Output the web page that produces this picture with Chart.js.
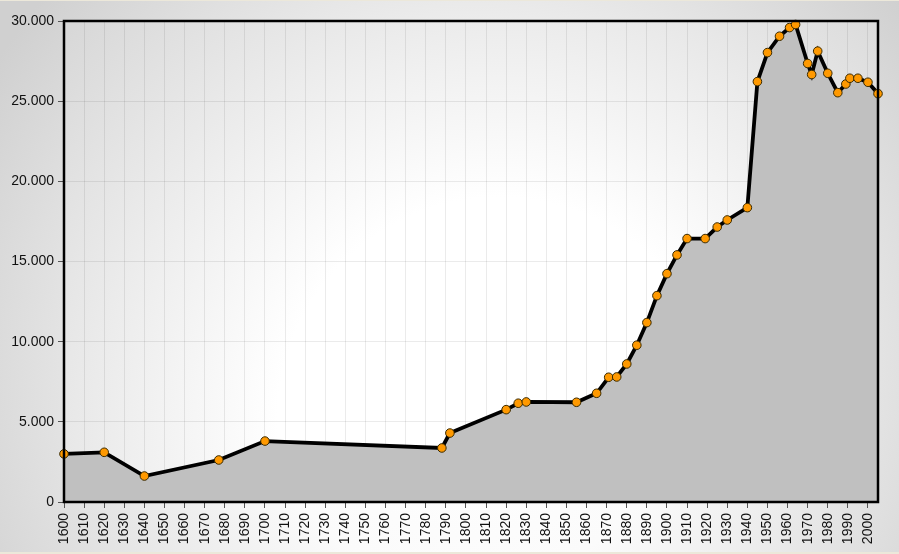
<!DOCTYPE html>
<html>
<head>
<meta charset="utf-8">
<script src="https://cdn.jsdelivr.net/npm/chart.js@4.4.1/dist/chart.umd.min.js"></script>
<style>
  html, body { margin: 0; padding: 0; background: #fff; }
  #wrap { width: 899px; height: 554px; }
</style>
</head>
<body>
<div id="wrap"><canvas id="grafik" width="899" height="554"></canvas></div>
<script>
// ===== data =====
const jahre = [1600, 1620, 1640, 1677, 1700, 1788, 1792, 1820, 1826, 1830,
  1855, 1865, 1871, 1875, 1880, 1885, 1890, 1895, 1900, 1905,
  1910, 1919, 1925, 1930, 1940, 1945, 1950, 1956, 1961, 1964,
  1970, 1972, 1975, 1980, 1985, 1989, 1991, 1995, 2000, 2005];
const einwohner = [3000, 3100, 1620, 2620, 3800, 3370, 4300, 5760, 6160, 6240,
  6220, 6780, 7780, 7800, 8610, 9780, 11190, 12870, 14240, 15410,
  16430, 16430, 17150, 17590, 18360, 26220, 28030, 29050, 29590, 29780,
  27350, 26660, 28120, 26740, 25530, 26070, 26430, 26430, 26180, 25470];
const yTicks = [0, 5000, 10000, 15000, 20000, 25000, 30000];
const xTicks = [];
for (let j = 1600; j <= 2000; j += 10) xTicks.push(j);

// ===== helper =====
function fmt(v) {
  return String(v).replace(/\B(?=(\d{3})+(?!\d))/g, ".");
}

const schrift = { family: "'Liberation Sans', Arial, sans-serif", size: 14 };

// ===== hintergrund =====
const hintergrund = {
  id: "hintergrund",
  beforeDraw(chart) {
    const { ctx, width, height, chartArea: a } = chart;
    ctx.save();
    let g = ctx.createRadialGradient(470, 360, 40, 470, 360, 560);
    g.addColorStop(0, "#ffffff");
    g.addColorStop(0.35, "#fbfbfb");
    g.addColorStop(1, "#d0d0d0");
    ctx.fillStyle = g;
    ctx.fillRect(0, 0, width, height);
    ctx.fillStyle = "#ece8da";
    ctx.fillRect(0, 0, width, 1);
    ctx.fillRect(0, height - 2, width, 2);

    g = ctx.createRadialGradient(500, 420, 30, 500, 420, 580);
    g.addColorStop(0, "#ffffff");
    g.addColorStop(0.35, "#ffffff");
    g.addColorStop(1, "#d8d8d8");
    ctx.fillStyle = g;
    ctx.fillRect(a.left, a.top, a.right - a.left, a.bottom - a.top);
    ctx.restore();
  },
  afterDraw(chart) {
    const { ctx, chartArea: a } = chart;
    ctx.save();
    ctx.strokeStyle = "#000";
    ctx.lineWidth = 2.5;
    ctx.strokeRect(a.left, a.top, a.right - a.left, a.bottom - a.top);
    ctx.restore();
  }
};

// ===== grafik =====
new Chart(document.getElementById("grafik"), {
  type: "line",
  data: {
    datasets: [{
      label: "Einwohner",
      data: jahre.map((x, i) => ({ x, y: einwohner[i] })),
      borderColor: "#000",
      borderWidth: 3.8,
      backgroundColor: "#c0c0c0",
      fill: "origin",
      tension: 0,
      clip: false,
      pointRadius: 4.3,
      pointBackgroundColor: "#ff9900",
      pointBorderColor: "#3a2a00",
      pointBorderWidth: 1
    }]
  },
  options: {
    responsive: false,
    animation: false,
    layout: { padding: { left: 0, right: 21, top: 21, bottom: 0 } },
    plugins: { legend: { display: false }, tooltip: { enabled: false } },
    scales: {
      x: {
        type: "linear",
        min: 1600,
        max: 2005,
        afterBuildTicks(s) {
          s.ticks = xTicks.map(v => ({ value: v }));
        },
        afterFit(s) { s.height = 52; },
        ticks: {
          maxRotation: 90,
          minRotation: 90,
          autoSkip: false,
          color: "#111",
          padding: 5,
          font: schrift,
          callback: v => String(v)
        },
        grid: { color: "rgba(0,0,0,0.08)", tickColor: "#555", tickLength: 6 },
        border: { display: false }
      },
      y: {
        min: 0,
        max: 30000,
        afterBuildTicks(s) {
          s.ticks = yTicks.map(v => ({ value: v }));
        },
        afterFit(s) { s.width = 64; },
        ticks: {
          color: "#111",
          padding: 4,
          font: schrift,
          callback: v => fmt(v)
        },
        grid: { color: "rgba(0,0,0,0.08)", tickColor: "#555", tickLength: 6 },
        border: { display: false }
      }
    }
  },
  plugins: [hintergrund]
});
</script>
</body>
</html>
